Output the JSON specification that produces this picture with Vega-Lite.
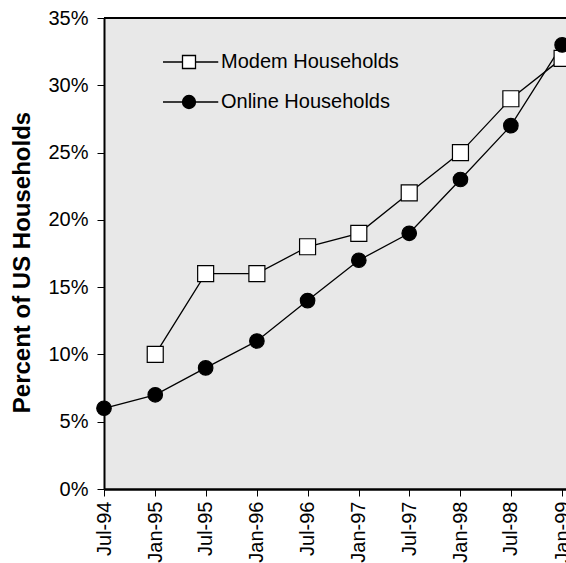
{
  "$schema": "https://vega.github.io/schema/vega-lite/v6.json",
  "width": 462,
  "height": 471,
  "autosize": "none",
  "padding": {"left": 104, "top": 18, "right": 0, "bottom": 74},
  "background": "white",
  "config": {
    "view": {"fill": "#e8e8e8", "stroke": null},
    "font": "Liberation Sans",
    "axis": {"grid": false, "domainColor": "black", "tickColor": "black", "labelColor": "black", "titleColor": "black", "labelFont": "Liberation Sans", "titleFont": "Liberation Sans"}
  },
  "data": {
    "values": [
      {"date": "1995-01-01", "series": "Modem Households", "value": 0.10},
      {"date": "1995-07-01", "series": "Modem Households", "value": 0.16},
      {"date": "1996-01-01", "series": "Modem Households", "value": 0.16},
      {"date": "1996-07-01", "series": "Modem Households", "value": 0.18},
      {"date": "1997-01-01", "series": "Modem Households", "value": 0.19},
      {"date": "1997-07-01", "series": "Modem Households", "value": 0.22},
      {"date": "1998-01-01", "series": "Modem Households", "value": 0.25},
      {"date": "1998-07-01", "series": "Modem Households", "value": 0.29},
      {"date": "1999-01-01", "series": "Modem Households", "value": 0.32},
      {"date": "1994-07-01", "series": "Online Households", "value": 0.06},
      {"date": "1995-01-01", "series": "Online Households", "value": 0.07},
      {"date": "1995-07-01", "series": "Online Households", "value": 0.09},
      {"date": "1996-01-01", "series": "Online Households", "value": 0.11},
      {"date": "1996-07-01", "series": "Online Households", "value": 0.14},
      {"date": "1997-01-01", "series": "Online Households", "value": 0.17},
      {"date": "1997-07-01", "series": "Online Households", "value": 0.19},
      {"date": "1998-01-01", "series": "Online Households", "value": 0.23},
      {"date": "1998-07-01", "series": "Online Households", "value": 0.27},
      {"date": "1999-01-01", "series": "Online Households", "value": 0.33}
    ]
  },
  "encoding": {
    "x": {
      "field": "date",
      "type": "temporal",
      "scale": {"type": "utc", "domain": [{"year": 1994, "month": 7, "date": 1, "utc": true}, {"year": 1999, "month": 1, "date": 15, "utc": true}]},
      "axis": {
        "title": null,
        "values": [
          {"year": 1994, "month": 7, "date": 1, "utc": true},
          {"year": 1995, "month": 1, "date": 1, "utc": true},
          {"year": 1995, "month": 7, "date": 1, "utc": true},
          {"year": 1996, "month": 1, "date": 1, "utc": true},
          {"year": 1996, "month": 7, "date": 1, "utc": true},
          {"year": 1997, "month": 1, "date": 1, "utc": true},
          {"year": 1997, "month": 7, "date": 1, "utc": true},
          {"year": 1998, "month": 1, "date": 1, "utc": true},
          {"year": 1998, "month": 7, "date": 1, "utc": true},
          {"year": 1999, "month": 1, "date": 1, "utc": true}
        ],
        "labelExpr": "utcFormat(datum.value, '%b-%y')",
        "labelAngle": -90,
        "labelFontSize": 20,
        "labelPadding": 5,
        "tickSize": 7,
        "tickWidth": 1,
        "domainWidth": 2.5,
        "labelOverlap": false,
        "labelFlush": false,
        "labelBound": false
      }
    },
    "y": {
      "field": "value",
      "type": "quantitative",
      "scale": {"domain": [0, 0.35], "nice": false},
      "axis": {
        "title": "Percent of US Households",
        "values": [0, 0.05, 0.1, 0.15, 0.2, 0.25, 0.3, 0.35],
        "format": ".0%",
        "labelFontSize": 20,
        "labelPadding": 9,
        "tickSize": 7,
        "tickWidth": 1,
        "domainWidth": 2,
        "titleFontSize": 24,
        "titleFontWeight": "bold",
        "titleAngle": -90,
        "titleX": -82,
        "titleY": 244,
        "titleAlign": "center",
        "titleBaseline": "middle",
        "labelFlush": false,
        "labelOverlap": false
      }
    }
  },
  "layer": [
    {
      "mark": {"type": "rule", "color": "black", "strokeWidth": 1.5},
      "encoding": {"y": {"datum": 0.35}, "x": null}
    },
    {
      "mark": {"type": "line", "color": "black", "strokeWidth": 1.3},
      "encoding": {"detail": {"field": "series"}}
    },
    {
      "transform": [{"filter": "datum.series === 'Modem Households'"}],
      "mark": {"type": "point", "shape": "square", "filled": true, "fill": "white", "stroke": "black", "strokeWidth": 1.2, "size": 256, "opacity": 1}
    },
    {
      "transform": [{"filter": "datum.series === 'Online Households'"}],
      "mark": {"type": "point", "shape": "circle", "filled": true, "fill": "black", "stroke": "black", "strokeWidth": 1.2, "size": 210, "opacity": 1}
    },
    {
      "transform": [{"filter": "false"}],
      "mark": {"type": "point", "filled": false, "strokeWidth": 1.3, "size": 169, "opacity": 1},
      "encoding": {
        "shape": {
          "field": "series",
          "title": null,
          "scale": {
            "domain": ["Modem Households", "Online Households"],
            "range": ["M-4,0H-1M1,0H4.5M-1,-1H1V1H-1Z", "M-4,0H-1M1,0H4.5M-1,0A1,1,0,1,0,1,0A1,1,0,1,0,-1,0Z"]
          },
          "legend": {
            "title": null,
            "orient": "none",
            "legendX": 75,
            "legendY": 34,
            "padding": 0,
            "symbolSize": 169,
            "labelFontSize": 20,
            "labelColor": "black",
            "labelOffset": 22,
            "labelLimit": 400,
            "rowPadding": 20,
            "symbolStrokeColor": "black",
            "symbolStrokeWidth": 1.3
          }
        },
        "fill": {
          "field": "series",
          "title": null,
          "scale": {"domain": ["Modem Households", "Online Households"], "range": ["white", "black"]}
        },
        "stroke": {
          "field": "series",
          "title": null,
          "scale": {"domain": ["Modem Households", "Online Households"], "range": ["black", "black"]}
        }
      }
    }
  ]
}
